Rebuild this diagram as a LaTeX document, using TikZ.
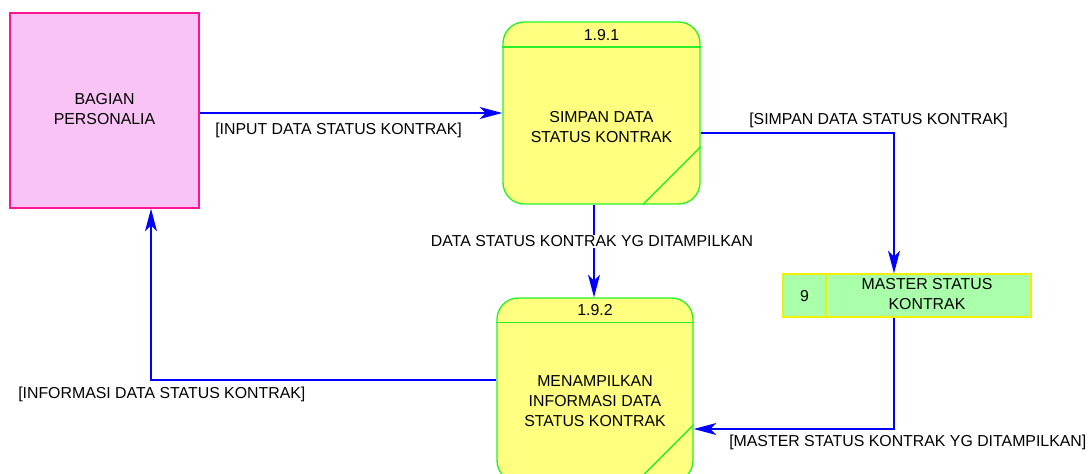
\documentclass[tikz,border=0pt]{standalone}
\usepackage{fontspec}
\setmainfont{Liberation Sans}
\usetikzlibrary{arrows.meta,calc}
\definecolor{extfill}{RGB}{249,195,245}
\definecolor{extline}{RGB}{255,20,147}
\definecolor{procfill}{RGB}{255,255,128}
\definecolor{procline}{RGB}{40,240,40}
\definecolor{storefill}{RGB}{170,255,170}
\definecolor{storeline}{RGB}{240,240,0}
\definecolor{flowblue}{RGB}{0,0,255}
\begin{document}
\begin{tikzpicture}[x=0.75pt,y=-0.75pt,
  txt/.style={font=\fontsize{11.9}{15}\selectfont, text=black, inner sep=0pt, align=center},
  lbl/.style={txt, anchor=west},
  extbox/.style={draw=extline, fill=extfill, line width=1pt, inner sep=0pt},
  procbox/.style={draw=procline, fill=procfill, line width=1pt, rounded corners=16pt, inner sep=0pt},
  procline/.style={draw=procline, line width=1pt},
  storebox/.style={draw=storeline, fill=storefill, line width=1pt, inner sep=0pt},
  flow/.style={draw=flowblue, line width=1pt, -{Stealth[length=17pt,width=9pt,inset=4.5pt]}}]
\clip (0,0) rectangle (1091,474);
% external entity
\node[extbox, minimum width=141.75pt, minimum height=146.25pt] (ext) at (104.5,110.5) {};
\node[txt] (extt) at (104.5,109) {BAGIAN\\PERSONALIA};
% process 1.9.1
\node[procbox, minimum width=147.75pt, minimum height=136.5pt] (p1) at (601.5,113) {};
\draw[procline] (p1.west |- 0,47) -- (p1.east |- 0,47);
\draw[procline] ($(p1.south east)+(0,-58)$) -- ($(p1.south east)+(-58,0)$);
\node[txt] (p1id) at (601.5,35) {1.9.1};
\node[txt] (p1t) at (601.5,127) {SIMPAN DATA\\STATUS KONTRAK};
% process 1.9.2
\node[procbox, minimum width=147pt, minimum height=138pt] (p2) at (595,390) {};
\draw[procline] (p2.west |- 0,322.5) -- (p2.east |- 0,322.5);
\draw[procline] ($(p2.south east)+(0,-58)$) -- ($(p2.south east)+(-58,0)$);
\node[txt] (p2id) at (595,310) {1.9.2};
\node[txt] (p2t) at (595,401) {MENAMPILKAN\\INFORMASI DATA\\STATUS KONTRAK};
% data store
\node[storebox, minimum width=186pt, minimum height=32.25pt] (st) at (907,295.5) {};
\draw[storeline, line width=1pt] (st.north -| 826,0) -- (st.south -| 826,0);
\node[txt] (stid) at (804.5,296) {9};
\node[txt] (stt) at (927,294) {MASTER STATUS\\KONTRAK};
% flows
\draw[flow] (ext.east |- 0,113) -- (p1.west |- 0,113);
\node[lbl] (l1) at (215,130) {[INPUT DATA STATUS KONTRAK]};
\draw[flow] (p1.east |- 0,133) -| (st.north -| 894,0);
\node[lbl] (l2) at (749,120) {[SIMPAN DATA STATUS KONTRAK]};
\draw[flow] (p1.south -| 594,0) -- (p2.north -| 594,0);
\node[txt, fill=white, inner sep=1pt] (l3) at (592,241.5) {DATA STATUS KONTRAK YG DITAMPILKAN};
\draw[flow] (st.south -| 894,0) |- (p2.east |- 0,429);
\node[lbl] (l4) at (729,442) {[MASTER STATUS KONTRAK YG DITAMPILKAN]};
\draw[flow] (p2.west |- 0,380) -| (ext.south -| 151,0);
\node[lbl] (l5) at (18,394) {[INFORMASI DATA STATUS KONTRAK]};
\end{tikzpicture}
\end{document}
